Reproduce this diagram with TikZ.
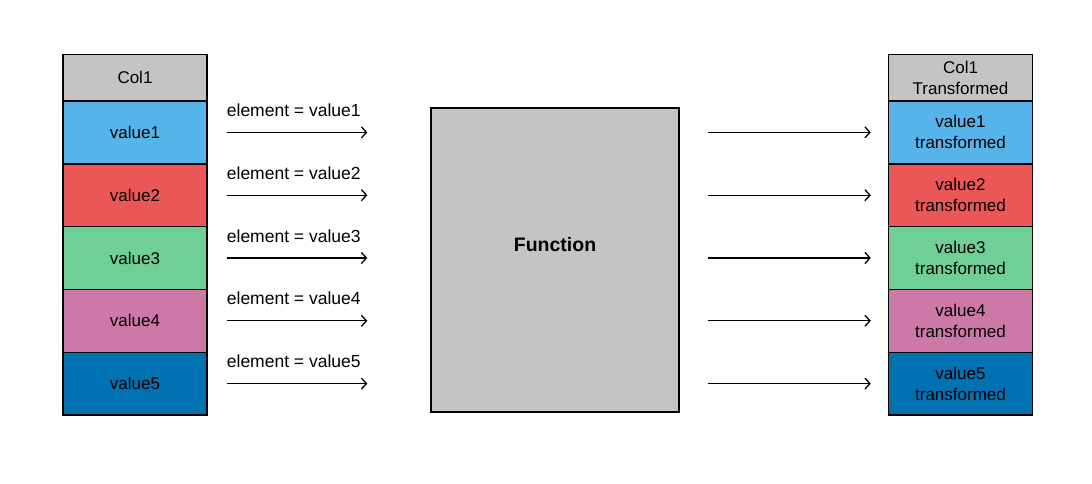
\documentclass[tikz,border=0pt]{standalone}
\usepackage{fontspec}
\setmainfont{Liberation Sans}
\usetikzlibrary{arrows.meta,calc}
\definecolor{hdr}{HTML}{C4C4C4}
\definecolor{cA}{HTML}{56B4E9}
\definecolor{cB}{HTML}{EB5757}
\definecolor{cC}{HTML}{6FCF97}
\definecolor{cD}{HTML}{CC79A7}
\definecolor{cE}{HTML}{0072B2}
\tikzset{
  cell/.style={draw=black, line width=1.4pt, minimum width=144pt, minimum height=62.8pt,
    inner sep=0pt, align=center, font=\fontsize{17}{21}\selectfont, text=black},
  hcell/.style={cell, minimum height=46.5pt, fill=hdr},
  conn/.style={line width=1.3pt, -{Straight Barb[length=5pt,width=11pt,line width=1.3pt]}},
  lab/.style={anchor=base west, inner sep=0pt, font=\fontsize{17.5}{21}\selectfont}
}
\begin{document}
\begin{tikzpicture}[x=1pt,y=-1pt]
\useasboundingbox (0,0) rectangle (1092,484);
% left column
\node[hcell] (Lh) at (135,77.5) {Col1};
\node[cell, fill=cA] (L1) at (135,132.4) {value1};
\node[cell, fill=cB] (L2) at (135,195.2) {value2};
\node[cell, fill=cC] (L3) at (135,258.0) {value3};
\node[cell, fill=cD] (L4) at (135,320.8) {value4};
\node[cell, fill=cE] (L5) at (135,383.6) {value5};
% function
\node[draw=black, line width=1.4pt, fill=hdr, minimum width=248pt, minimum height=304pt,
  label={[yshift=15pt, font=\fontsize{19.5}{23}\selectfont\bfseries]center:Function}] (fn) at (555,260) {};
% right column
\node[hcell] (Rh) at (960.5,77.5) {Col1\\Transformed};
\node[cell, fill=cA] (R1) at (960.5,132.4) {value1\\transformed};
\node[cell, fill=cB] (R2) at (960.5,195.2) {value2\\transformed};
\node[cell, fill=cC] (R3) at (960.5,258.0) {value3\\transformed};
\node[cell, fill=cD] (R4) at (960.5,320.8) {value4\\transformed};
\node[cell, fill=cE] (R5) at (960.5,383.6) {value5\\transformed};
% arrows
\foreach \i in {1,...,5}{
  \coordinate (a\i) at ($(L\i.east)+(19,0)$);
  \coordinate (b\i) at ($(fn.west|-L\i.east)+(-63,0)$);
  \draw[conn] (a\i) -- (b\i);
  \node[lab] at ($(a\i)+(0,-16)$) {element = value\i};
  \coordinate (c\i) at ($(fn.east|-R\i.west)+(28,0)$);
  \coordinate (d\i) at ($(R\i.west)+(-17,0)$);
  \draw[conn] (c\i) -- (d\i);
}
\end{tikzpicture}
\end{document}
